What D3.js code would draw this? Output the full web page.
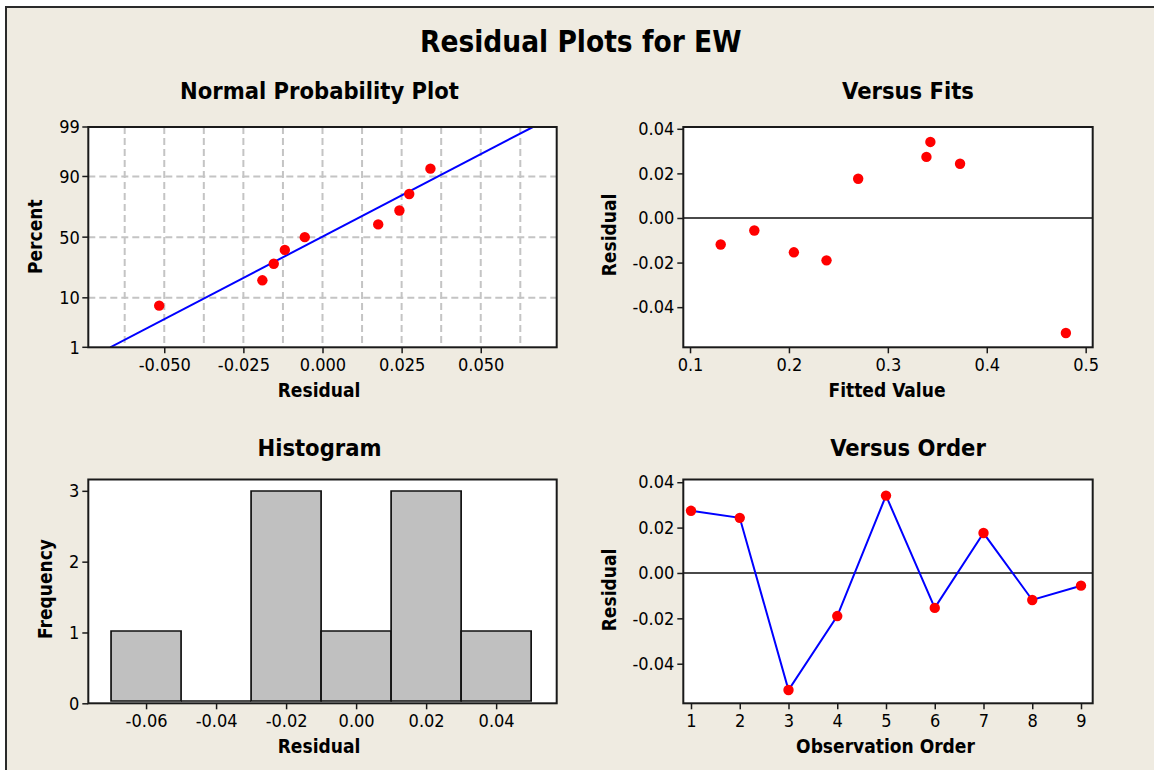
<!DOCTYPE html>
<html><head><meta charset="utf-8">
<script src="https://cdn.jsdelivr.net/npm/d3@7"></script>
<style>
html,body{margin:0;padding:0;background:#ffffff;}
svg{display:block;}
text{font-family:"DejaVu Sans Condensed","DejaVu Sans",sans-serif;font-stretch:condensed;fill:#000;}
</style></head><body>
<svg id="chart" width="1154" height="770"></svg>
<script>
// ---------------- data ----------------
const observationOrder = [1, 2, 3, 4, 5, 6, 7, 8, 9];
const residuals      = [0.0274, 0.0243, -0.0516, -0.0190, 0.0341, -0.0154, 0.0176, -0.0119, -0.0056];
const fittedValues   = [0.339, 0.373, 0.480, 0.238, 0.343, 0.205, 0.270, 0.131, 0.165];
// normal-plot percentiles of the sorted residuals
const normalPercents = [7.4, 18.1, 28.7, 39.4, 50.0, 60.6, 71.3, 81.9, 92.6];
// fitted normal line (mean, st.dev)
const fitLineMean = -0.0003;
const fitLineStDev = 0.0287;
const fitLinePercents = [1, 99];
// histogram bin edges
const histBinEdges = [-0.07, -0.05, -0.03, -0.01, 0.01, 0.03, 0.05];
// tick values / labels
const npXTicks = [-0.050, -0.025, 0.000, 0.025, 0.050];
const npXGrid  = [-0.0625, -0.05, -0.0375, -0.025, -0.0125, 0, 0.0125, 0.025, 0.0375, 0.05, 0.0625];
const npYTicks = [1, 10, 50, 90, 99];
const npYGrid  = [10, 50, 90];
const fitsXTicks = [0.1, 0.2, 0.3, 0.4, 0.5];
const residTicks = [0.04, 0.02, 0.00, -0.02, -0.04];
const histXTicks = [-0.06, -0.04, -0.02, 0.00, 0.02, 0.04];
const histYTicks = [0, 1, 2, 3];
const orderXTicks = [1, 2, 3, 4, 5, 6, 7, 8, 9];

// ---------------- helpers ----------------
function probit(p) { // inverse standard normal CDF (Acklam)
  const a=[-3.969683028665376e+01,2.209460984245205e+02,-2.759285104469687e+02,1.383577518672690e+02,-3.066479806614716e+01,2.506628277459239e+00];
  const b=[-5.447609879822406e+01,1.615858368580409e+02,-1.556989798598866e+02,6.680131188771972e+01,-1.328068155288572e+01];
  const c=[-7.784894002430293e-03,-3.223964580411365e-01,-2.400758277161838e+00,-2.549671010286190e+00,4.374664141464968e+00,2.938163982698783e+00];
  const d=[7.784695709041462e-03,3.224671290700398e-01,2.445134137142996e+00,3.754408661907416e+00];
  const pl=0.02425;
  let q,r;
  if (p<pl){q=Math.sqrt(-2*Math.log(p));return (((((c[0]*q+c[1])*q+c[2])*q+c[3])*q+c[4])*q+c[5])/((((d[0]*q+d[1])*q+d[2])*q+d[3])*q+1);}
  if (p>1-pl){q=Math.sqrt(-2*Math.log(1-p));return -(((((c[0]*q+c[1])*q+c[2])*q+c[3])*q+c[4])*q+c[5])/((((d[0]*q+d[1])*q+d[2])*q+d[3])*q+1);}
  q=p-0.5;r=q*q;
  return (((((a[0]*r+a[1])*r+a[2])*r+a[3])*r+a[4])*r+a[5])*q/(((((b[0]*r+b[1])*r+b[2])*r+b[3])*r+b[4])*r+1);
}

const svg = d3.select("#chart");
const BG = "#EFEBE1";
svg.append("rect").attr("x",6).attr("y",7).attr("width",1170).attr("height",800)
  .attr("fill",BG).attr("stroke","#2a2a2a").attr("stroke-width",2);

svg.append("text").attr("x",580.7).attr("y",51.7).attr("text-anchor","middle")
  .attr("font-size",29.5).attr("font-weight","bold").text("Residual Plots for EW");

const TICK_FS = 18, AX_FS = 19, PT_FS = 23.5;

function panelFrame(x0,x1,y0,y1){
  return svg.append("rect").attr("x",x0).attr("y",y0).attr("width",x1-x0).attr("height",y1-y0)
    .attr("fill","#fff");
}
function panelBorder(x0,x1,y0,y1){
  svg.append("rect").attr("x",x0).attr("y",y0).attr("width",x1-x0).attr("height",y1-y0)
    .attr("fill","none").attr("stroke","#1a1a1a").attr("stroke-width",2);
}
function styleAxis(g){
  g.select(".domain").remove();
  g.selectAll(".tick line").attr("stroke","#1a1a1a").attr("stroke-width",1.5);
  g.selectAll(".tick text").attr("font-size",TICK_FS).attr("fill","#000")
    .style("font-family",'"DejaVu Sans Condensed","DejaVu Sans",sans-serif');
}
function bottomAxis(scale,ticks,fmt,y){
  const g = svg.append("g").attr("transform",`translate(0,${y})`)
    .call(d3.axisBottom(scale).tickValues(ticks).tickFormat(fmt).tickSize(6).tickSizeOuter(0).tickPadding(5));
  styleAxis(g);
}
function leftAxis(scale,ticks,fmt,x){
  const g = svg.append("g").attr("transform",`translate(${x},0)`)
    .call(d3.axisLeft(scale).tickValues(ticks).tickFormat(fmt).tickSize(6).tickSizeOuter(0).tickPadding(3));
  styleAxis(g);
}
function title(txt,x,y){
  svg.append("text").attr("x",x).attr("y",y).attr("text-anchor","middle")
    .attr("font-size",PT_FS).attr("font-weight","bold").text(txt);
}
function xTitle(txt,x,y){
  svg.append("text").attr("x",x).attr("y",y).attr("text-anchor","middle")
    .attr("font-size",AX_FS).attr("font-weight","bold").text(txt);
}
function yTitle(txt,x,y){
  svg.append("text").attr("transform",`translate(${x},${y}) rotate(-90)`).attr("text-anchor","middle")
    .attr("font-size",AX_FS).attr("font-weight","bold").text(txt);
}
const fmtFixed = n => d => d.toFixed(n);

// ---------------- panel geometry ----------------
const LX0 = 88.3, LX1 = 556.7, RX0 = 683.3, RX1 = 1092.7;
const TY0 = 127, TY1 = 347.3, BY0 = 479.5, BY1 = 703.3;

// ================= Normal probability plot =================
{
  const x = d3.scaleLinear([-0.074, 0.074], [LX0, LX1]);
  const zScale = d3.scaleLinear([probit(0.01), probit(0.99)], [TY1, TY0]);
  const y = p => zScale(probit(p / 100));
  panelFrame(LX0,LX1,TY0,TY1);
  const clipId = "npclip";
  svg.append("clipPath").attr("id",clipId).append("rect")
    .attr("x",LX0).attr("y",TY0).attr("width",LX1-LX0).attr("height",TY1-TY0);
  const grid = svg.append("g").attr("stroke","#c4c4c4").attr("stroke-width",2).attr("stroke-dasharray","7,4");
  grid.selectAll(".vg").data(npXGrid).join("line")
    .attr("x1",d=>x(d)).attr("x2",d=>x(d)).attr("y1",TY0).attr("y2",TY1);
  grid.selectAll(".hg").data(npYGrid).join("line")
    .attr("x1",LX0).attr("x2",LX1).attr("y1",d=>y(d)).attr("y2",d=>y(d));
  // fitted normal line
  const linePts = fitLinePercents.map(p => [x(fitLineMean + fitLineStDev*probit(p/100)), y(p)]);
  svg.append("path").attr("clip-path",`url(#${clipId})`).attr("d",d3.line()(linePts))
    .attr("fill","none").attr("stroke","#0000ff").attr("stroke-width",2);
  const sorted = residuals.slice().sort(d3.ascending);
  svg.append("g").selectAll("circle").data(sorted).join("circle")
    .attr("cx",d=>x(d)).attr("cy",(d,i)=>y(normalPercents[i])).attr("r",5.2).attr("fill","#ff0000");
  panelBorder(LX0,LX1,TY0,TY1);
  bottomAxis(x,npXTicks,fmtFixed(3),TY1);
  // left ticks on probability scale
  const g = svg.append("g");
  npYTicks.forEach(p=>{
    g.append("line").attr("x1",LX0-6).attr("x2",LX0).attr("y1",y(p)).attr("y2",y(p))
      .attr("stroke","#1a1a1a").attr("stroke-width",1.5);
    g.append("text").attr("x",LX0-8.5).attr("y",y(p)).attr("dy","0.36em").attr("text-anchor","end")
      .attr("font-size",TICK_FS).text(p);
  });
  title("Normal Probability Plot",319.5,99);
  xTitle("Residual",319,397.3);
  yTitle("Percent",41.5,236.7);
}

// ================= Versus Fits =================
{
  const x = d3.scaleLinear([0.0932, 0.5071], [RX0, RX1]);
  const y = d3.scaleLinear([-0.058, 0.0408], [TY1, TY0]);
  panelFrame(RX0,RX1,TY0,TY1);
  svg.append("line").attr("x1",RX0).attr("x2",RX1).attr("y1",y(0)).attr("y2",y(0))
    .attr("stroke","#4a4a4a").attr("stroke-width",2);
  svg.append("g").selectAll("circle").data(residuals).join("circle")
    .attr("cx",(d,i)=>x(fittedValues[i])).attr("cy",d=>y(d)).attr("r",5.2).attr("fill","#ff0000");
  panelBorder(RX0,RX1,TY0,TY1);
  bottomAxis(x,fitsXTicks,fmtFixed(1),TY1);
  leftAxis(y,residTicks,fmtFixed(2),RX0);
  title("Versus Fits",908,99);
  xTitle("Fitted Value",887,397.3);
  yTitle("Residual",616,235);
}

// ================= Histogram =================
{
  const x = d3.scaleLinear([-0.0765, 0.0573], [LX0, LX1]);
  const yTicksScale = d3.scaleLinear([0, 3.16], [BY1, BY0]);
  const yBars = d3.scaleLinear([0, 3], [701, 491]);
  panelFrame(LX0,LX1,BY0,BY1);
  const bins = d3.bin().domain([histBinEdges[0], histBinEdges[histBinEdges.length-1]])
    .thresholds(histBinEdges.slice(1,-1))(residuals);
  svg.append("g").selectAll("path").data(bins).join("path")
    .attr("d",b=>{
      const p = d3.path();
      p.moveTo(x(b.x0), yBars(0)); p.lineTo(x(b.x0), yBars(b.length));
      p.lineTo(x(b.x1), yBars(b.length)); p.lineTo(x(b.x1), yBars(0)); p.closePath();
      return p.toString();
    })
    .attr("fill","#c0c0c0").attr("stroke","#111").attr("stroke-width",1.7);
  panelBorder(LX0,LX1,BY0,BY1);
  bottomAxis(x,histXTicks,fmtFixed(2),BY1);
  leftAxis(yTicksScale,histYTicks,d3.format("d"),LX0);
  title("Histogram",319.5,456);
  xTitle("Residual",319,753.3);
  yTitle("Frequency",51.5,589);
}

// ================= Versus Order =================
{
  const x = d3.scaleLinear([0.842, 9.24], [RX0, RX1]);
  const y = d3.scaleLinear([-0.05745, 0.0412], [BY1, BY0]);
  panelFrame(RX0,RX1,BY0,BY1);
  svg.append("line").attr("x1",RX0).attr("x2",RX1).attr("y1",y(0)).attr("y2",y(0))
    .attr("stroke","#4a4a4a").attr("stroke-width",2);
  svg.append("path").attr("d",d3.line().x((d,i)=>x(observationOrder[i])).y(d=>y(d))(residuals))
    .attr("fill","none").attr("stroke","#0000ff").attr("stroke-width",2);
  svg.append("g").selectAll("circle").data(residuals).join("circle")
    .attr("cx",(d,i)=>x(observationOrder[i])).attr("cy",d=>y(d)).attr("r",5.2).attr("fill","#ff0000");
  panelBorder(RX0,RX1,BY0,BY1);
  bottomAxis(x,orderXTicks,d3.format("d"),BY1);
  leftAxis(y,residTicks,fmtFixed(2),RX0);
  title("Versus Order",908,456);
  xTitle("Observation Order",885.5,753.3);
  yTitle("Residual",616,590);
}
</script></body></html>
